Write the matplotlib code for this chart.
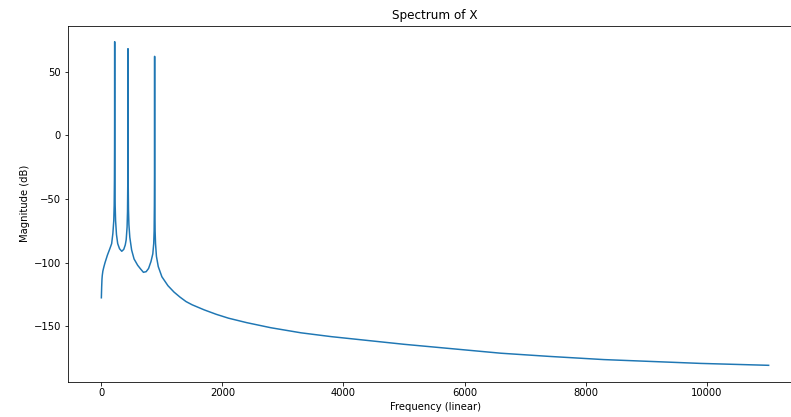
import matplotlib
matplotlib.use('Agg')
from matplotlib import pyplot as plt

# spectrum (Hz, dB)
freq = [0, 5, 10, 15, 25, 40, 60, 80, 100, 120, 140, 155, 170, 190, 205, 212, 216, 218, 219,
        220,
        221, 222, 224, 228, 235, 250, 270, 300, 337, 370, 395, 410, 425, 432, 436, 438, 439,
        440,
        441, 442, 444, 448, 455, 470, 500, 540, 600, 650, 695, 740, 780, 820, 850, 865, 872,
        876, 878, 879,
        880,
        881, 882, 884, 888, 895, 910, 940, 1000, 1100, 1200, 1300, 1400, 1500, 1700, 1900,
        2100, 2400, 2800, 3300, 3800, 4400, 5000, 5800, 6600, 7400, 8300, 9100, 9900, 11025]
mag = [-127.5, -119, -113, -110, -106.5, -103.5, -100, -97, -94, -91.5, -89, -87, -85, -77, -67, -55, -35, -10, 20,
       73.5,
       20, -10, -35, -55, -67, -78, -85, -89, -91, -89.5, -86, -82, -72, -60, -40, -15, 15,
       68,
       15, -15, -40, -58, -70, -80, -90, -97, -102, -105, -107.5, -107, -104.5, -99, -93, -85, -75,
       -55, -30, 10,
       62,
       10, -30, -55, -75, -85, -95, -103, -111, -118, -123, -127, -130.5, -133, -137, -140.5,
       -143.5, -147, -151, -155, -158, -161, -164, -167.5, -171, -173.5, -176, -177.5, -179, -180.5]

fig = plt.figure(figsize=(791/72, 417/72), dpi=72)
ax = fig.add_axes([68/791, 35.5/417, (802-68)/791, 356/417])
ax.plot(freq, mag)
ax.set_title('Spectrum of X')
ax.set_xlabel('Frequency (linear)')
ax.set_ylabel('Magnitude (dB)')

fig.savefig('out.png', dpi=72)
